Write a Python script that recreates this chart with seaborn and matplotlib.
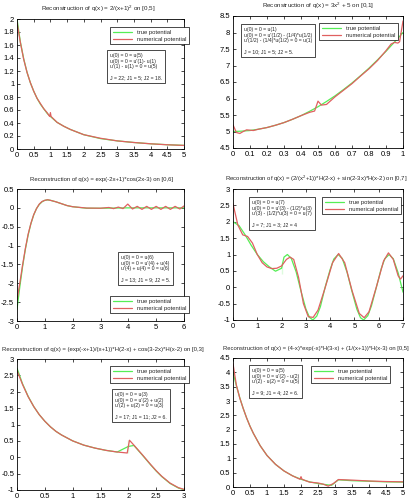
import matplotlib
matplotlib.use('Agg')
import matplotlib.pyplot as plt
import seaborn as sns
from matplotlib.ticker import MultipleLocator, FormatStrFormatter

# ---- dados ----
# painel 1: q(x) = 2/(x+1)^2 em [0,5]
p1_x_true = [0, 0.1, 0.2, 0.3, 0.4, 0.5, 0.6, 0.7, 0.8, 0.9, 1.0, 1.2, 1.4, 1.6, 1.8, 2.0, 2.5, 3.0, 3.5, 4.0, 4.5, 5.0]
p1_true = [2.0, 1.65, 1.39, 1.18, 1.02, 0.89, 0.78, 0.69, 0.62, 0.55, 0.50, 0.41, 0.35, 0.30, 0.26, 0.22, 0.16, 0.125, 0.10, 0.08, 0.066, 0.056]
p1_x_num = [0, 0.1, 0.2, 0.3, 0.4, 0.5, 0.6, 0.7, 0.8, 0.9, 0.95, 0.98, 1.0, 1.02, 1.2, 1.4, 1.6, 1.8, 2.0, 2.5, 3.0, 3.5, 4.0, 4.5, 5.0]
p1_num = [1.95, 1.64, 1.38, 1.18, 1.02, 0.89, 0.78, 0.70, 0.62, 0.56, 0.52, 0.50, 0.56, 0.50, 0.41, 0.35, 0.30, 0.26, 0.22, 0.165, 0.125, 0.10, 0.08, 0.065, 0.055]

# painel 2: q(x) = 3x^2 + 5 em [0,1]
p2_x_true = [0, 0.05, 0.1, 0.15, 0.2, 0.25, 0.3, 0.35, 0.4, 0.45, 0.5, 0.55, 0.6, 0.65, 0.7, 0.75, 0.8, 0.85, 0.9, 0.95, 1.0]
p2_true = [5.0, 5.01, 5.03, 5.07, 5.12, 5.19, 5.27, 5.37, 5.48, 5.61, 5.75, 5.91, 6.08, 6.27, 6.47, 6.69, 6.92, 7.17, 7.43, 7.71, 8.0]
p2_x_num = [0, 0.02, 0.04, 0.06, 0.08, 0.1, 0.12, 0.15, 0.2, 0.25, 0.3, 0.35, 0.4, 0.45, 0.48, 0.5, 0.52, 0.55, 0.6, 0.65, 0.7, 0.75, 0.8, 0.85, 0.9, 0.93, 0.95, 0.97, 0.98, 1.0]
p2_num = [5.2, 4.97, 4.94, 5.0, 5.05, 5.04, 5.03, 5.07, 5.12, 5.19, 5.27, 5.37, 5.48, 5.58, 5.62, 5.92, 5.8, 5.82, 6.05, 6.25, 6.45, 6.68, 6.9, 7.15, 7.45, 7.65, 7.7, 7.68, 7.72, 8.35]

# painel 3: q(x) = exp(-2x+1)*cos(2x-3) em [0,6]
p3_x_true = [0, 0.1, 0.2, 0.3, 0.4, 0.5, 0.6, 0.7, 0.8, 0.9, 1.0, 1.1, 1.2, 1.4, 1.6, 1.8, 2.0, 2.5, 3.0, 4.0, 5.0, 6.0]
p3_true = [-2.69, -2.10, -1.56, -1.10, -0.72, -0.42, -0.19, -0.02, 0.09, 0.16, 0.20, 0.21, 0.20, 0.16, 0.11, 0.06, 0.03, -0.01, -0.01, 0.0, 0.0, 0.0]
p3_x_num = [0, 0.1, 0.2, 0.3, 0.4, 0.5, 0.6, 0.7, 0.8, 0.9, 1.0, 1.1, 1.2, 1.4, 1.6, 1.8, 2.0, 2.5, 3.0, 3.3, 3.47, 3.64, 3.81, 3.98, 4.15, 4.32, 4.49, 4.66, 4.83, 5.0, 5.17, 5.34, 5.51, 5.68, 5.85, 6.0]
p3_num = [-2.45, -2.0, -1.52, -1.08, -0.70, -0.41, -0.18, -0.02, 0.10, 0.17, 0.20, 0.215, 0.20, 0.16, 0.11, 0.06, 0.03, -0.005, -0.01, 0.01, -0.02, 0.02, -0.02, 0.10, -0.03, 0.04, -0.04, 0.04, -0.04, 0.04, -0.04, 0.04, -0.04, 0.04, -0.03, 0.05]

# painel 4: q(x) = (2/(x^2+1))*H(2-x) + sin(2-3x)*H(x-2) em [0,7]
p4_x_true = [0, 0.25, 0.5, 0.75, 1.0, 1.25, 1.5, 1.75, 2.0, 2.0, 2.1, 2.24, 2.4, 2.6, 2.8, 3.0, 3.15, 3.29, 3.45, 3.6, 3.8, 4.0, 4.15, 4.33, 4.5, 4.7, 4.9, 5.1, 5.25, 5.38, 5.55, 5.7, 5.9, 6.1, 6.25, 6.43, 6.6, 6.8, 7.0]
p4_true = [2.0, 1.88, 1.6, 1.28, 1.0, 0.78, 0.62, 0.49, 0.40, 0.76, 0.92, 1.0, 0.88, 0.47, -0.12, -0.66, -0.92, -1.0, -0.88, -0.59, 0.02, 0.54, 0.86, 1.0, 0.88, 0.45, -0.13, -0.67, -0.93, -1.0, -0.87, -0.57, -0.01, 0.56, 0.87, 1.0, 0.87, 0.44, -0.15]
p4_x_num = [0, 0.2, 0.4, 0.6, 0.8, 1.0, 1.2, 1.4, 1.6, 1.8, 2.0, 2.2, 2.35, 2.5, 2.7, 2.9, 3.1, 3.3, 3.5, 3.8, 4.1, 4.35, 4.6, 4.9, 5.2, 5.4, 5.6, 5.9, 6.2, 6.4, 6.6, 6.8, 6.9, 7.0]
p4_num = [2.55, 1.9, 1.6, 1.55, 1.35, 1.0, 0.75, 0.62, 0.57, 0.58, 0.65, 0.85, 0.92, 0.85, 0.3, -0.5, -0.9, -0.92, -0.7, 0.0, 0.75, 1.03, 0.75, -0.1, -0.8, -0.93, -0.75, 0.0, 0.8, 1.05, 0.85, 0.35, 0.25, 0.35]

# painel 5: q(x) = (exp(-x+1)/(x+1))*H(2-x) + cos(3-2x)*H(x-2) em [0,3]
p5_x_true = [0, 0.1, 0.2, 0.3, 0.4, 0.5, 0.6, 0.7, 0.8, 1.0, 1.2, 1.4, 1.6, 1.8, 2.0, 2.0, 2.1, 2.25, 2.4, 2.5, 2.6, 2.75, 2.9, 3.0]
p5_true = [2.72, 2.24, 1.86, 1.55, 1.30, 1.10, 0.93, 0.79, 0.68, 0.50, 0.37, 0.28, 0.21, 0.16, 0.12, 0.54, 0.36, 0.07, -0.23, -0.42, -0.59, -0.80, -0.94, -0.99]
p5_x_num = [0, 0.1, 0.2, 0.3, 0.4, 0.5, 0.6, 0.7, 0.8, 1.0, 1.2, 1.4, 1.6, 1.8, 1.98, 2.02, 2.1, 2.25, 2.4, 2.5, 2.6, 2.75, 2.9, 3.0]
p5_num = [2.65, 2.22, 1.85, 1.55, 1.30, 1.10, 0.93, 0.79, 0.68, 0.50, 0.37, 0.28, 0.21, 0.16, 0.13, 0.52, 0.37, 0.08, -0.22, -0.41, -0.58, -0.79, -0.93, -0.98]

# painel 6: q(x) = (4-x)*exp(-x)*H(3-x) + (1/(x+1))*H(x-3) em [0,5]
p6_x_true = [0, 0.1, 0.2, 0.3, 0.4, 0.5, 0.6, 0.8, 1.0, 1.25, 1.5, 1.75, 2.0, 2.25, 2.5, 2.75, 2.9, 3.1, 3.5, 4.0, 4.5, 5.0]
p6_true = [4.0, 3.53, 3.11, 2.74, 2.41, 2.12, 1.87, 1.44, 1.10, 0.79, 0.56, 0.39, 0.27, 0.18, 0.12, 0.08, 0.06, 0.25, 0.22, 0.20, 0.18, 0.17]
p6_x_num = [0, 0.1, 0.2, 0.3, 0.4, 0.5, 0.6, 0.8, 1.0, 1.25, 1.5, 1.75, 1.97, 2.0, 2.03, 2.25, 2.5, 2.65, 2.8, 2.95, 3.1, 3.3, 3.5, 4.0, 4.5, 5.0]
p6_num = [4.3, 3.55, 3.1, 2.74, 2.41, 2.12, 1.87, 1.44, 1.10, 0.79, 0.56, 0.39, 0.27, 0.36, 0.27, 0.17, 0.14, 0.10, 0.03, 0.12, 0.26, 0.25, 0.24, 0.21, 0.19, 0.18]

titulos = [
    'Reconstruction of q(x) = 2/(x+1)$^2$ on [0,5]',
    'Reconstruction of q(x) = 3x$^2$ + 5 on [0,1]',
    'Reconstruction of q(x) = exp(-2x+1)*cos(2x-3) on [0,6]',
    'Reconstruction of q(x) = (2/(x$^2$+1))*H(2-x) + sin(2-3x)*H(x-2) on [0,7]',
    'Reconstruction of q(x) = (exp(-x+1)/(x+1))*H(2-x) + cos(3-2x)*H(x-2) on [0,3]',
    'Reconstruction of q(x) = (4-x)*exp(-x)*H(3-x) + (1/(x+1))*H(x-3) on [0,5]',
]
condicoes = [
    "u(0) = 0 = u(5)\nu(0) = 0 = u'(1)- u(1)\nu'(1) - u(1) = 0 = u(5)\n\nJ = 22; J1 = 5; J2 = 18.",
    "u(0) = 0 = u(1)\nu(0) = 0 = u'(1/2) - (1/4)*u(1/2)\nu'(1/2) - (1/4)*u(1/2) = 0 = u(1)\n\nJ = 10; J1 = 5; J2 = 5.",
    "u(0) = 0 = u(6)\nu(0) = 0 = u'(4) + u(4)\nu'(4) + u(4) = 0 = u(6)\n\nJ = 13; J1 = 9; J2 = 5.",
    "u(0) = 0 = u(7)\nu(0) = 0 = u'(3) - (1/2)*u(3)\nu'(3) - (1/2)*u(3) = 0 = u(7)\n\nJ = 7; J1 = 3; J2 = 4",
    "u(0) = 0 = u(3)\nu(0) = 0 = u'(2) + u(2)\nu'(2) + u(2) = 0 = u(3)\n\nJ = 17; J1 = 11; J2 = 6.",
    "u(0) = 0 = u(5)\nu(0) = 0 = u'(2) - u(2)\nu'(2) - u(2) = 0 = u(5)\n\nJ = 9; J1 = 4; J2 = 6.",
]
xlims = [(0, 5), (0, 1), (0, 6), (0, 7), (0, 3), (0, 5)]
ylims = [(0, 2), (4.5, 8.5), (-3, 0.5), (-1, 3), (-1, 3), (0, 4.5)]
xpassos = [0.5, 0.1, 1, 1, 0.5, 0.5]
ypassos = [0.2, 0.5, 0.5, 0.5, 0.5, 0.5]

# ---- layout (pixels da figura 412x500) ----
W, H = 412, 500
caixas = [(17, 19, 184, 149), (233, 16, 403, 148),
          (17, 189, 184, 321), (233, 189, 403, 320),
          (17, 359, 184, 490), (233, 358, 403, 487)]
pos_legenda = [(110, 27), (319, 23), (110, 296), (322, 197), (110, 366), (311, 366)]
pos_texto = [(107, 50), (241, 24), (118, 252), (249, 197), (112, 389), (249, 365)]
# largura (px) e centro dos titulos na referencia
larg_titulo = [115, 113, 145, 183, 204, 187]
centro_titulo = [98, 318, 102, 316, 103, 316]

sns.set_style('ticks')
plt.rcParams['font.family'] = ['Liberation Sans', 'DejaVu Sans']
plt.rcParams['mathtext.fontset'] = 'custom'
plt.rcParams['mathtext.rm'] = 'Liberation Sans'

verde = '#55ee55'
vermelho = '#e06060'

fig = plt.figure(figsize=(W / 100, H / 100), dpi=100)
renderer = fig.canvas.get_renderer()

series = [(p1_x_true, p1_true, p1_x_num, p1_num),
          (p2_x_true, p2_true, p2_x_num, p2_num),
          (p3_x_true, p3_true, p3_x_num, p3_num),
          (p4_x_true, p4_true, p4_x_num, p4_num),
          (p5_x_true, p5_true, p5_x_num, p5_num),
          (p6_x_true, p6_true, p6_x_num, p6_num)]

for i, (xt, yt, xn, yn) in enumerate(series):
    l, t, r, b = caixas[i]
    ax = fig.add_axes([l / W, 1 - b / H, (r - l) / W, (b - t) / H])
    sns.lineplot(x=xt, y=yt, ax=ax, color=verde, lw=0.9, label='true potential', sort=False)
    sns.lineplot(x=xn, y=yn, ax=ax, color=vermelho, lw=0.9, label='numerical potential', sort=False)
    ax.set_xlim(*xlims[i])
    ax.set_ylim(*ylims[i])
    ax.xaxis.set_major_locator(MultipleLocator(xpassos[i]))
    ax.yaxis.set_major_locator(MultipleLocator(ypassos[i]))
    ax.xaxis.set_major_formatter(FormatStrFormatter('%g'))
    ax.yaxis.set_major_formatter(FormatStrFormatter('%g'))
    ax.tick_params(direction='in', top=True, right=True, length=2.5, width=0.5,
                   labelsize=5.5, pad=2, colors='black')
    for s in ax.spines.values():
        s.set_linewidth(0.6)
        s.set_color('black')

    # titulo ajustado a largura da referencia
    tt = fig.text(centro_titulo[i] / W, 1 - (t - 8) / H, titulos[i], ha='center', va='baseline', fontsize=5)
    w = tt.get_window_extent(renderer).width
    tt.set_fontsize(5 * larg_titulo[i] / w)

    lx, ly = pos_legenda[i]
    leg = ax.legend(loc='upper left', bbox_to_anchor=((lx - l) / (r - l), (b - ly) / (b - t)),
                    borderaxespad=0, fontsize=4.2, handlelength=3.4, borderpad=0.45,
                    labelspacing=0.35, fancybox=False, framealpha=1, edgecolor='black')
    leg.get_frame().set_linewidth(0.5)

    tx, ty = pos_texto[i]
    ax.text((tx + 3 - l) / (r - l), (b - ty - 3) / (b - t), condicoes[i], transform=ax.transAxes,
            ha='left', va='top', fontsize=3.7, linespacing=1.15,
            bbox=dict(boxstyle='square,pad=0.55', fc='white', ec='black', lw=0.5))

fig.savefig('out.png', dpi=100)
plt.close()
